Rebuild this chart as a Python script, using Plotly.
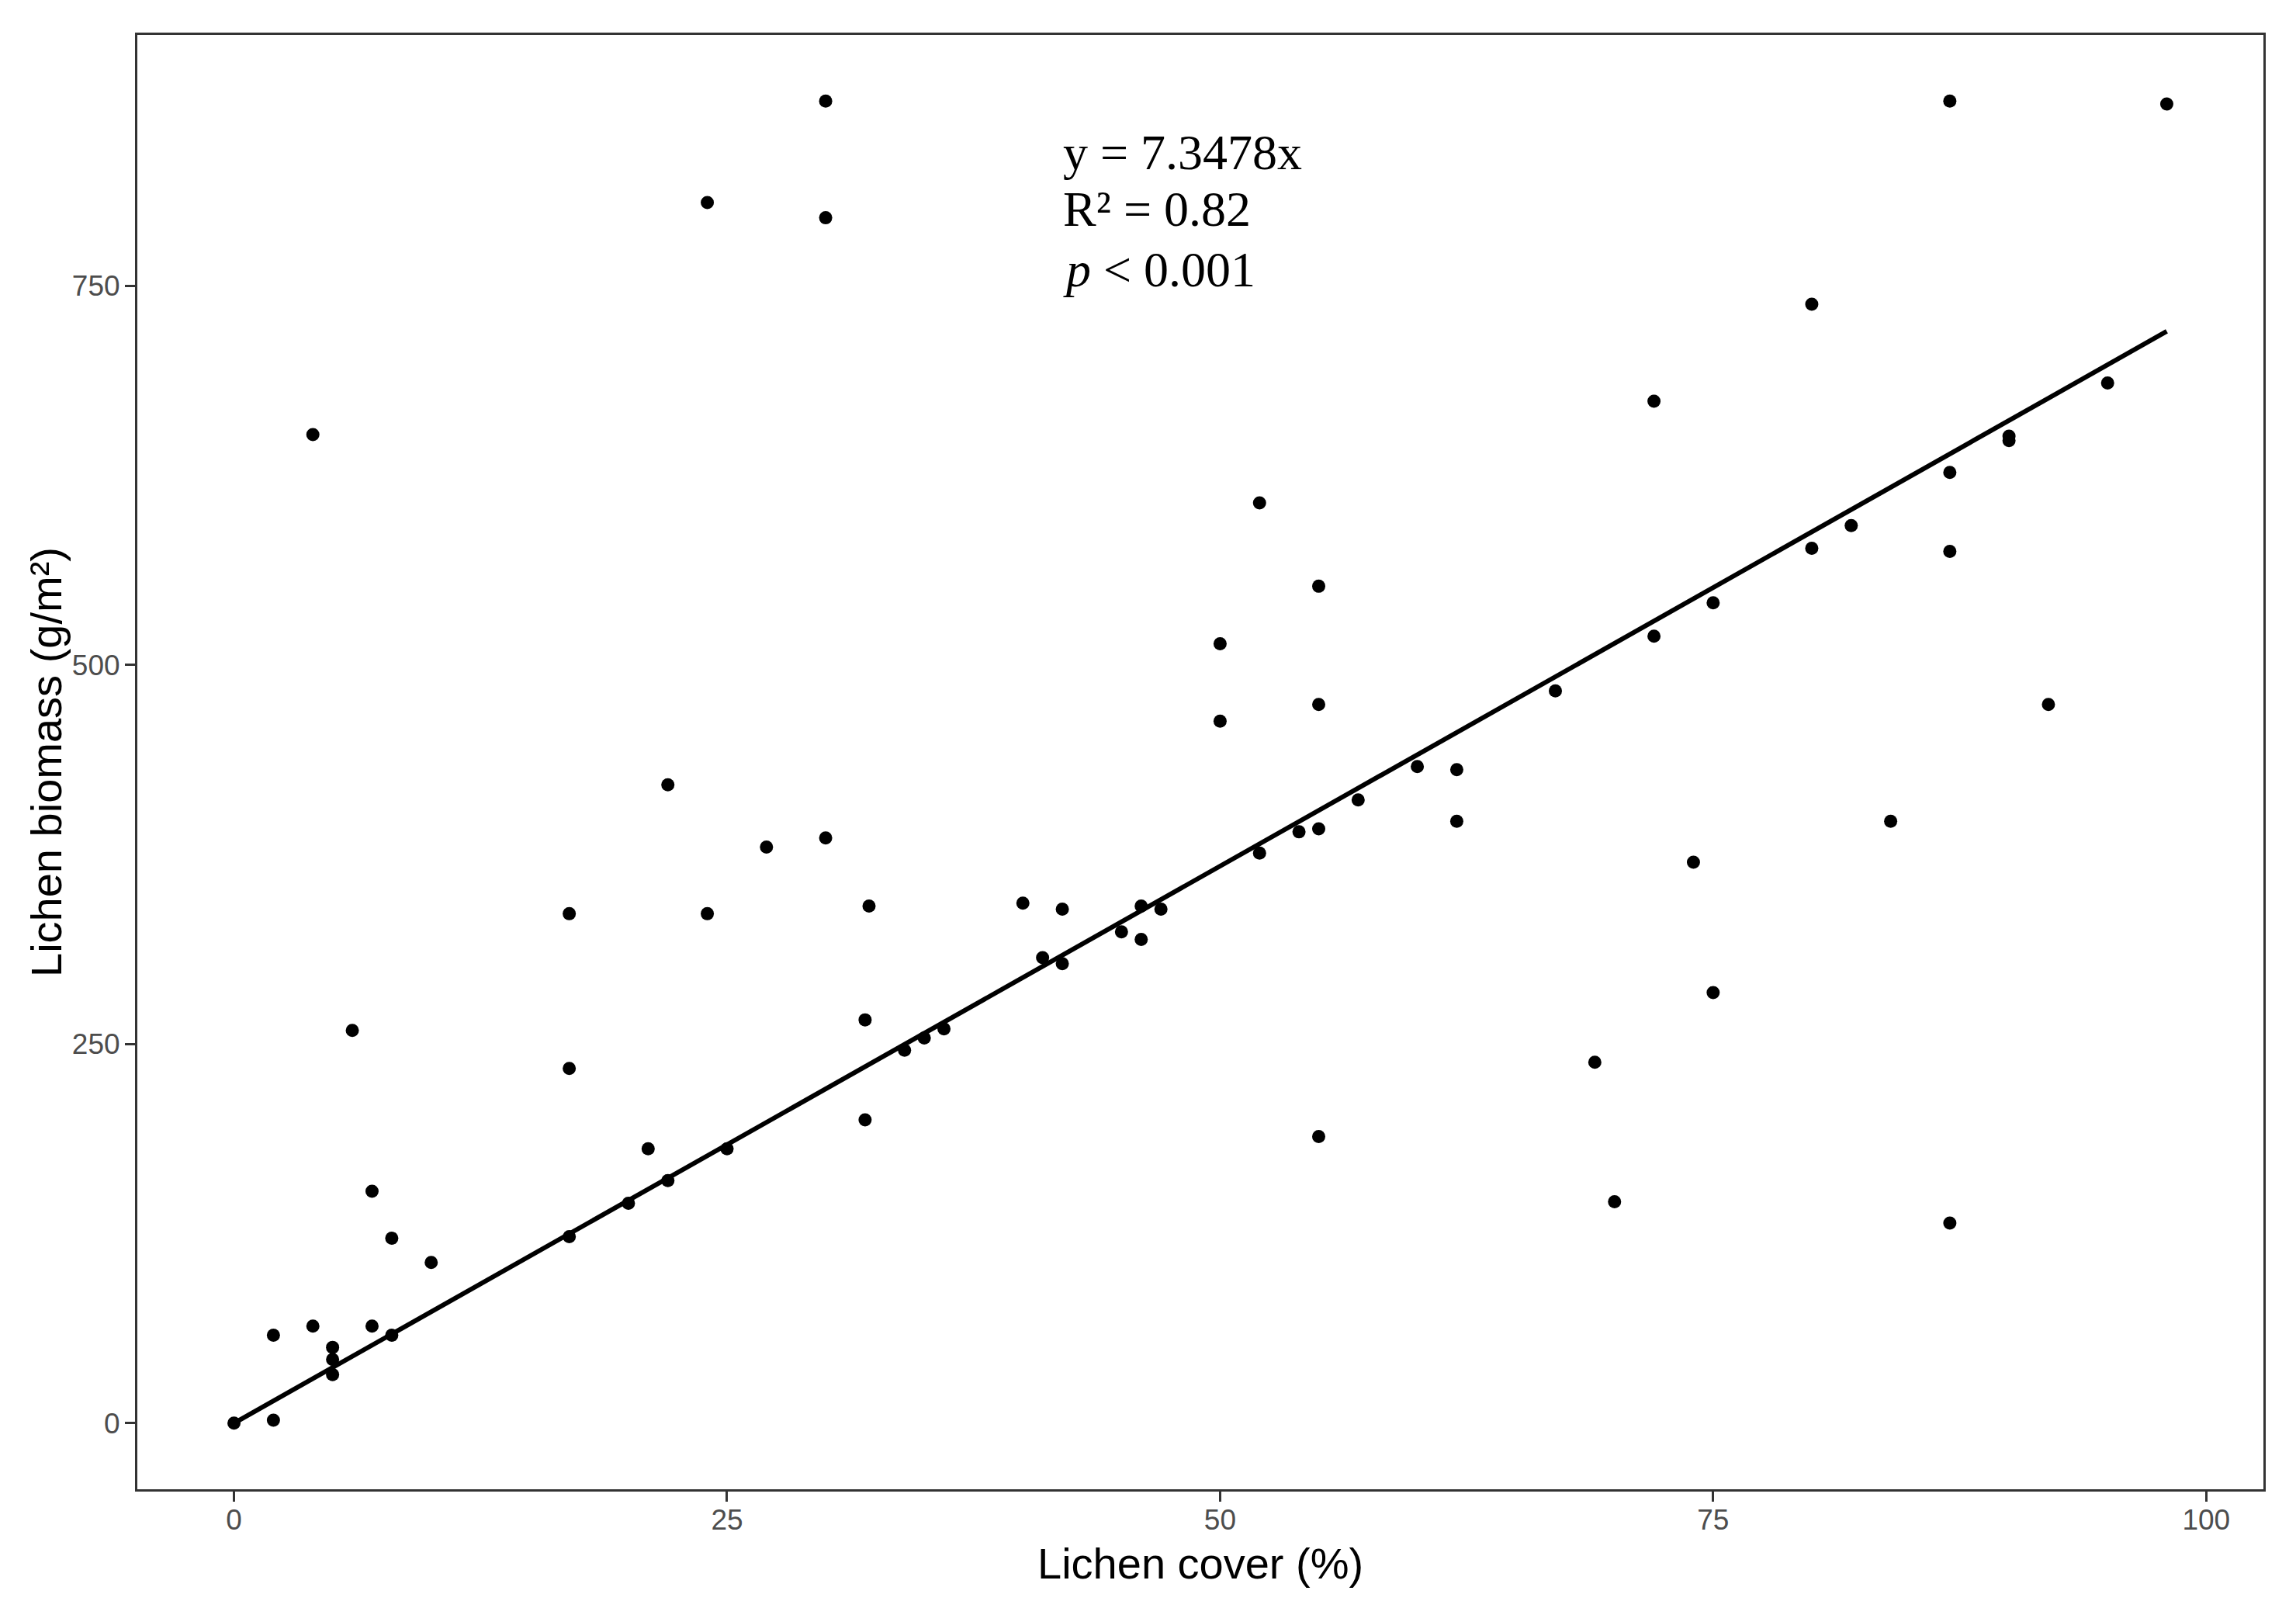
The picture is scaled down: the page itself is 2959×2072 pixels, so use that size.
import plotly.graph_objects as go

# ---- data ----
cover = [0, 2, 2, 4, 4, 5, 5, 5, 6, 7, 7, 8, 8, 10,
         17, 17, 17, 20, 21, 22, 22, 24, 24, 25, 27,
         30, 30, 30, 32, 32, 32.2, 34, 35, 36, 40, 41, 42, 42,
         45, 46, 46, 47, 50, 50, 52, 52, 54, 55, 55, 55, 55, 57,
         60, 62, 62, 67, 69, 70, 72, 72, 74, 75, 75, 80, 80, 82, 84,
         87, 87, 87, 87, 90, 90, 92, 95, 98]
biomass = [0, 2, 58, 64, 652, 50, 42, 32, 259, 153, 64, 122, 58, 106,
           336, 234, 123, 145, 181, 160, 421, 805, 336, 181, 380,
           872, 795, 386, 266, 200, 341, 246, 254, 260, 343, 307, 339, 303,
           324, 341, 319, 339, 514, 463, 607, 376, 390, 552, 474, 392, 189, 411,
           433, 431, 397, 483, 238, 146, 674, 519, 370, 541, 284, 738, 577, 592, 397,
           872, 627, 575, 132, 651, 648, 474, 686, 870]

slope = 7.3478
fit_x = [0, 98]
fit_y = [slope * v for v in fit_x]

x_ticks = [0, 25, 50, 75, 100]
y_ticks = [0, 250, 500, 750]

x_range = [-4.9, 102.9]
y_range = [-43.6, 915.6]

stats_lines = ["y = 7.3478x", "R\u00b2 = 0.82", "<i>p</i> &lt; 0.001"]

fig = go.Figure()
fig.add_trace(go.Scatter(x=cover, y=biomass, mode="markers",
                         marker=dict(color="black", size=17, line=dict(width=0)),
                         showlegend=False))
fig.add_trace(go.Scatter(x=fit_x, y=fit_y, mode="lines",
                         line=dict(color="black", width=6),
                         showlegend=False))

sans = "Liberation Sans, Arial, sans-serif"
serif = "Liberation Serif, Times New Roman, serif"

axis_common = dict(showgrid=False, zeroline=False, showline=True, mirror=True,
                   linecolor="#333333", linewidth=3,
                   ticks="outside", ticklen=13, tickwidth=3, tickcolor="#333333",
                   tickfont=dict(family=sans, size=37, color="#4D4D4D"))

# page body has an 8px default margin, so the figure is offset by 8px
fig.update_layout(
    width=2951, height=2064,
    margin=dict(l=169, r=42, t=37, b=153),
    paper_bgcolor="white", plot_bgcolor="white",
    xaxis=dict(range=x_range, tickvals=x_ticks, ticklabelstandoff=-8, **axis_common),
    yaxis=dict(range=y_range, tickvals=y_ticks, ticklabelstandoff=-1, **axis_common),
)

annots = [
    dict(text="Lichen cover (%)", x=0.5, y=0, xref="paper", yref="paper",
         xanchor="center", yanchor="middle", yshift=-95, showarrow=False,
         font=dict(family=sans, size=56, color="black")),
    dict(text="Lichen biomass (g/m\u00b2)", x=0, y=0.5, xref="paper", yref="paper",
         xanchor="center", yanchor="middle", xshift=-118, textangle=-90, showarrow=False,
         font=dict(family=sans, size=56, color="black")),
]
stat_y = [838, 800.5, 761]
for txt, yy in zip(stats_lines, stat_y):
    annots.append(dict(text=txt, x=41.95, y=yy, xref="x", yref="y",
                       xanchor="left", yanchor="middle", showarrow=False,
                       font=dict(family=serif, size=64, color="black")))
fig.update_layout(annotations=annots)

fig.write_html("out.html")
